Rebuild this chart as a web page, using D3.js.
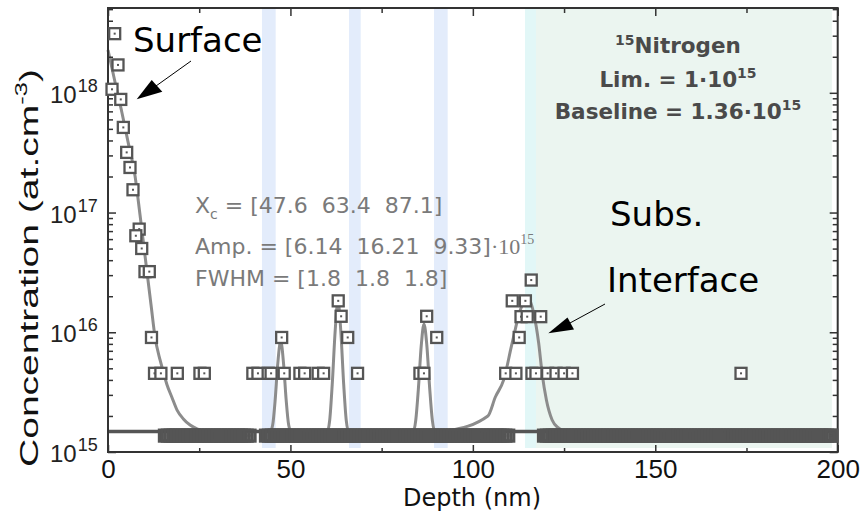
<!DOCTYPE html>
<html><head><meta charset="utf-8">
<script src="https://cdn.jsdelivr.net/npm/d3@7"></script>
<style>
body{margin:0;background:#fff;}
svg{display:block;}
</style>
</head><body>
<svg id="c" width="864" height="523"></svg>
<script>
// ---------------- DATA ----------------
const depthTicks = [0, 50, 100, 150, 200];
const depthMinorTicks = [25, 75, 125, 175];
const decadeTicks = [1e15, 1e16, 1e17, 1e18];

// measured 15N points above the detection limit (depth nm, concentration at/cm3)
const profileDepth = [1.83, 2.74, 1.1, 3.5, 4.2, 5.12, 6.03, 6.85, 8.55, 7.63, 9.24, 10.14, 11.32, 11.92,
  12.75, 14.5, 19.0, 25.2, 26.4, 39.7, 41.1, 43.9, 44.7, 47.6, 48.3, 52.6, 53.9, 57.6, 59.1,
  63.1, 63.9, 65.7, 68.4, 85.5, 86.6, 87.35, 90.1,
  109.0, 110.8, 111.8, 112.7, 113.2, 114.4, 114.9, 116.0, 116.2, 117.3, 118.6,
  120.5, 122.8, 125.0, 127.3, 173.5];
const profileConc = [3.12e18, 1.71e18, 1.07e18, 8.81e17, 5.14e17, 3.18e17, 2.38e17, 1.55e17, 7.27e16, 6.40e16, 5.01e16, 3.21e16, 3.21e16, 9.05e15,
  4.54e15, 4.54e15, 4.54e15, 4.54e15, 4.54e15, 4.54e15, 4.54e15, 4.54e15, 4.54e15, 9.05e15, 4.54e15, 4.54e15, 4.54e15, 4.54e15, 4.54e15,
  1.83e16, 1.36e16, 9.05e15, 4.54e15, 4.54e15, 4.54e15, 1.36e16, 9.05e15,
  4.54e15, 1.83e16, 4.54e15, 9.05e15, 1.35e16, 1.83e16, 1.35e16, 2.73e16, 4.54e15, 4.54e15, 1.35e16,
  4.54e15, 4.54e15, 4.54e15, 4.54e15, 4.54e15];

// measured points at the detection floor (depth nm)
const floorDepth = [15.6,16.4,17.2,18.0,18.8,19.6,20.4,21.2,22.0,22.8,23.6,24.4,25.2,26.0,26.8,27.6,28.4,29.2,30.0,30.8,31.6,32.4,33.2,34.0,34.8,35.6,36.4,37.2,38.0,38.8,
  43.3,44.1,44.9,45.7,46.5,47.3,48.1,48.9,49.7,50.5,51.3,52.1,52.9,53.7,54.5,55.3,56.1,56.9,57.7,58.5,59.3,60.1,60.9,61.7,62.5,63.3,64.1,64.9,65.7,66.5,67.3,68.1,68.9,69.7,70.5,71.3,72.1,72.9,73.7,74.5,75.3,76.1,76.9,77.7,78.5,79.3,80.1,80.9,81.7,82.5,83.3,84.1,84.9,85.7,86.5,87.3,88.1,88.9,89.7,90.5,91.3,92.1,92.9,93.7,94.5,95.3,96.1,96.9,97.7,98.5,99.3,100.1,100.9,101.7,102.5,103.3,104.1,104.9,105.7,106.5,107.3,108.1,108.9,109.7,
  119.5,120.3,121.1,121.9,122.7,123.5,124.3,125.1,125.9,126.7,127.5,128.3,129.1,129.9,130.7,131.5,132.3,133.1,133.9,134.7,135.5,136.3,137.1,137.9,138.7,139.5,140.3,141.1,141.9,142.7,143.5,144.3,145.1,145.9,146.7,147.5,148.3,149.1,149.9,150.7,151.5,152.3,153.1,153.9,154.7,155.5,156.3,157.1,157.9,158.7,159.5,160.3,161.1,161.9,162.7,163.5,164.3,165.1,165.9,166.7,167.5,168.3,169.1,169.9,170.7,171.5,172.3,173.1,173.9,174.7,175.5,176.3,177.1,177.9,178.7,179.5,180.3,181.1,181.9,182.7,183.5,184.3,185.1,185.9,186.7,187.5,188.3,189.1,189.9,190.7,191.5,192.3,193.1,193.9,194.7,195.5,196.3,197.1,197.9,198.3];
const floorLevel = 1.37e15;
const baselineLevel = 1.48e15;

// fit curve
const fitDepth = [0, 1.92, 3.84, 5.49, 7.41, 8.78, 10.62, 11.80, 12.89, 14.27, 15.17, 16.19, 17.48, 18.93, 20.66, 22.50, 24.42, 26.06, 30,
  44.44, 45.13, 45.82, 46.50, 47.33, 48.15, 48.83, 49.52, 50.21,
  60.08, 60.77, 61.45, 62.28, 63.02, 63.79, 64.61, 65.29, 65.98,
  83.68, 84.36, 85.05, 85.87, 86.61, 87.38, 88.20, 88.89, 89.57,
  93.28, 104.12, 106.17, 108.45, 110.75, 113.03, 114.95, 116.68, 118.05, 118.98, 120.16, 121.73, 123.54, 125.65, 200];
const fitConc = [2.28e18, 1.23e18, 6.79e17, 3.89e17, 2.02e17, 9.55e16, 3.31e16, 1.69e16, 9.14e15, 5.87e15, 4.66e15, 3.63e15, 2.88e15, 2.24e15, 1.89e15, 1.68e15, 1.56e15, 1.50e15, 1.48e15,
  1.48e15, 1.68e15, 2.72e15, 5.33e15, 8.46e15, 5.33e15, 2.72e15, 1.68e15, 1.48e15,
  1.48e15, 1.85e15, 3.63e15, 1.045e16, 1.83e16, 1.045e16, 3.63e15, 1.85e15, 1.48e15,
  1.48e15, 1.85e15, 3.30e15, 7.83e15, 1.17e16, 7.83e15, 3.30e15, 1.85e15, 1.48e15,
  1.51e15, 2.00e15, 2.88e15, 4.00e15, 8.09e15, 1.54e16, 1.97e16, 1.44e16, 8.09e15, 4.54e15, 2.72e15, 1.85e15, 1.58e15, 1.48e15, 1.48e15];

// shaded depth regions (nm)
const bandStart = [42.2, 66.05, 89.35, 114.3, 117.3];
const bandEnd   = [45.96, 69.26, 93.1, 117.3, 198.4];

// ---------------- DRAW ----------------
const svg = d3.select("#c");
const L = 108, R = 837.7, T = 8, B = 452;
const x = d3.scaleLinear().domain([0, 200]).range([L, R]);
const y = d3.scaleLog().domain([1e15, 5.11e18]).range([B, T]);
const SANS = "'DejaVu Sans', sans-serif";
const ARIAL = "'Liberation Sans', Arial, sans-serif";
const SP2 = "\u00a0\u00a0";

// bands
const bandFill = ["#e3ecfb", "#e3ecfb", "#e3ecfb", "#e2f7f7", "#ebf5f0"];
svg.append("g").selectAll("rect").data(bandStart).join("rect")
  .attr("x", (d, i) => x(d)).attr("width", (d, i) => x(bandEnd[i]) - x(d))
  .attr("y", T + 1).attr("height", B - 4 - T - 1)
  .attr("fill", (d, i) => bandFill[i]);

// fit curve
const fit = fitDepth.map((d, i) => [d, fitConc[i]]);
svg.append("path").datum(fit)
  .attr("d", d3.line().x(d => x(d[0])).y(d => y(d[1])).curve(d3.curveMonotoneX))
  .attr("fill", "none").attr("stroke", "#8c8c8c").attr("stroke-width", 3);

// baseline line
svg.append("path").datum([[0, baselineLevel], [200, baselineLevel]])
  .attr("d", d3.line().x(d => x(d[0])).y(d => y(d[1])))
  .attr("stroke", "#555").attr("stroke-width", 3.5).attr("fill", "none");

// axes
const axG = svg.append("g").attr("stroke-width", 1.5);
function styleAxis(g) { g.select(".domain").remove(); g.selectAll("line").attr("stroke", "#333"); }
axG.append("g").attr("transform", `translate(0,${B})`)
  .call(d3.axisBottom(x).tickValues(depthTicks).tickSize(-7).tickPadding(8).tickFormat(d3.format("d")))
  .call(styleAxis)
  .call(g => g.selectAll("text").attr("font-family", ARIAL).attr("font-size", 26).attr("fill", "#111"));
axG.append("g").attr("transform", `translate(0,${B})`)
  .call(d3.axisBottom(x).tickValues(depthMinorTicks).tickSize(-4).tickFormat(""))
  .call(styleAxis);
axG.append("g").attr("transform", `translate(0,${T})`)
  .call(d3.axisTop(x).tickValues(depthTicks).tickSize(-8).tickFormat(""))
  .call(styleAxis);
axG.append("g").attr("transform", `translate(0,${T})`)
  .call(d3.axisTop(x).tickValues(depthMinorTicks).tickSize(-5).tickFormat(""))
  .call(styleAxis);
const minorY = y.ticks().filter(v => decadeTicks.indexOf(v) < 0 && Math.abs(Math.log10(v) % 1) > 1e-6);
axG.append("g").attr("transform", `translate(${L},0)`)
  .call(d3.axisLeft(y).tickValues(decadeTicks).tickSize(-8).tickFormat(""))
  .call(styleAxis);
axG.append("g").attr("transform", `translate(${L},0)`)
  .call(d3.axisLeft(y).tickValues(minorY).tickSize(-5).tickFormat(""))
  .call(styleAxis);
axG.append("g").attr("transform", `translate(${R},0)`)
  .call(d3.axisRight(y).tickValues(decadeTicks).tickSize(-8).tickFormat(""))
  .call(styleAxis);
axG.append("g").attr("transform", `translate(${R},0)`)
  .call(d3.axisRight(y).tickValues(minorY).tickSize(-5).tickFormat(""))
  .call(styleAxis);

// y tick labels
const yl = svg.append("g").attr("font-family", ARIAL).attr("fill", "#222");
decadeTicks.forEach(d => {
  const t = yl.append("text").attr("x", 50).attr("y", y(d) + 10);
  t.append("tspan").attr("font-size", 24).text("10");
  t.append("tspan").attr("font-size", 18).attr("dx", 1).attr("dy", -11).text(Math.round(Math.log10(d)));
});

// frame
svg.append("rect").attr("x", L).attr("y", T).attr("width", R - L).attr("height", B - T)
  .attr("fill", "none").attr("stroke", "#333").attr("stroke-width", 2);

// data squares
function drawPoints(depths, concs, fill, sw) {
  const g = svg.append("g");
  depths.forEach((d, i) => {
    const cx = x(d), cy = y(concs[i]);
    g.append("rect").attr("x", cx - 5.5).attr("y", cy - 5.5).attr("width", 11).attr("height", 11)
      .attr("fill", fill).attr("stroke", "#555").attr("stroke-width", sw);
    g.append("rect").attr("x", cx - 1).attr("y", cy - 1).attr("width", 2).attr("height", 2).attr("fill", "#555");
  });
}
drawPoints(floorDepth, floorDepth.map(() => floorLevel), "none", 3.2);
drawPoints(profileDepth, profileConc, "#fff", 2.3);

// axis titles
svg.append("text").attr("x", 472).attr("y", 506).attr("text-anchor", "middle")
  .attr("font-family", SANS).attr("font-size", 24).attr("fill", "#111").text("Depth (nm)");
const yt = svg.append("text").attr("transform", "translate(38,268) rotate(-90)").attr("text-anchor", "middle")
  .attr("font-family", ARIAL).attr("font-size", 26).attr("fill", "#111")
  .attr("textLength", 398).attr("lengthAdjust", "spacingAndGlyphs");
yt.append("tspan").text("Concentration (at.cm");
yt.append("tspan").attr("font-size", 17).attr("dy", -11).text("-3");
yt.append("tspan").attr("dy", 11).text(")");

// big annotations
const big = svg.append("g").attr("font-family", SANS).attr("font-size", 34).attr("fill", "#000");
big.append("text").attr("x", 133).attr("y", 52).text("Surface");
big.append("text").attr("x", 610).attr("y", 226).text("Subs.");
big.append("text").attr("x", 607).attr("y", 292).text("Interface");

// arrows
svg.append("line").attr("x1", 191).attr("y1", 61).attr("x2", 156).attr("y2", 86).attr("stroke", "#000").attr("stroke-width", 1);
svg.append("path").attr("d", "M136.7,99.3 L151.7,80 L162.3,91.7 Z").attr("fill", "#000");
svg.append("line").attr("x1", 605).attr("y1", 304).attr("x2", 570).attr("y2", 323).attr("stroke", "#000").attr("stroke-width", 1);
svg.append("path").attr("d", "M548.3,333.3 L567.5,317.5 L574,329.5 Z").attr("fill", "#000");

// fit parameters
const gp = svg.append("g").attr("font-family", SANS).attr("font-size", 22).attr("fill", "#7a7a7a");
const l1 = gp.append("text").attr("x", 195).attr("y", 213);
l1.append("tspan").text("X");
l1.append("tspan").attr("font-size", 14).attr("dy", 6).text("c");
l1.append("tspan").attr("dy", -6).text(" = [47.6" + SP2 + "63.4" + SP2 + "87.1]");
const l2 = gp.append("text").attr("x", 195).attr("y", 254);
l2.append("tspan").text("Amp. = [6.14" + SP2 + "16.21" + SP2 + "9.33]");
l2.append("tspan").attr("font-family", "'Liberation Serif', serif").text("\u00b710");
l2.append("tspan").attr("font-family", "'Liberation Serif', serif").attr("font-size", 14).attr("dy", -10).text("15");
gp.append("text").attr("x", 195).attr("y", 286).text("FWHM = [1.8" + SP2 + "1.8" + SP2 + "1.8]");

// detection box
const bx = svg.append("g").attr("font-family", SANS).attr("font-weight", "bold").attr("font-size", 21.5)
  .attr("fill", "#4a4a4a").attr("text-anchor", "middle");
const b1 = bx.append("text").attr("x", 678).attr("y", 53);
b1.append("tspan").attr("font-size", 14).attr("dy", -8).text("15");
b1.append("tspan").attr("dy", 8).text("Nitrogen");
const b2 = bx.append("text").attr("x", 678).attr("y", 87);
b2.append("tspan").text("Lim. = 1\u00b710");
b2.append("tspan").attr("font-size", 14).attr("dy", -9).text("15");
const b3 = bx.append("text").attr("x", 678).attr("y", 119);
b3.append("tspan").text("Baseline = 1.36\u00b710");
b3.append("tspan").attr("font-size", 14).attr("dy", -9).text("15");
</script>
</body></html>
